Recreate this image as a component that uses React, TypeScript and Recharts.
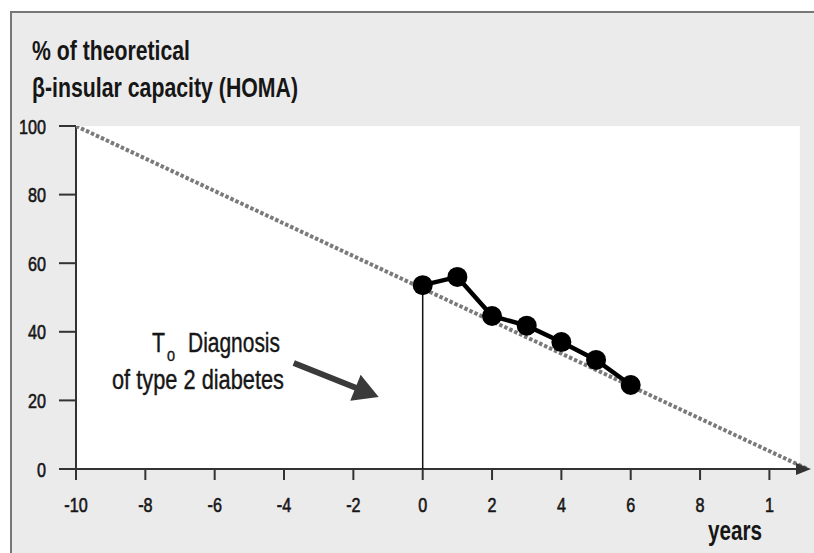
import { ComposedChart, Line, XAxis, YAxis, ReferenceArea, ReferenceLine, ReferenceDot } from 'recharts'

// observed HOMA beta-cell capacity after diagnosis
const years = [0, 1, 2, 3, 4, 5, 6]
const homaValues = [53.6, 56, 44.6, 41.8, 37, 31.8, 24.5]

// theoretical linear decline (dotted)
const declineYears = [-10, 11.1]
const declineValues = [100, 0]

// annotation arrow "T0 Diagnosis" (start, tip)
const arrowYears = [-3.72, -1.27]
const arrowValues = [30.9, 21]

const xTicks = [-10, -8, -6, -4, -2, 0, 2, 4, 6, 8, 10]
const xTickLabels = ['-10', '-8', '-6', '-4', '-2', '0', '2', '4', '6', '8', '1']
const yTicks = [0, 20, 40, 60, 80, 100]

const observed = years.map((x, i) => ({ x, y: homaValues[i] }))
const decline = declineYears.map((x, i) => ({ x, y: declineValues[i] }))
const arrow = arrowYears.map((x, i) => ({ x, y: arrowValues[i] }))

// condensed look: Liberation Sans squeezed horizontally
const FONT = "'Liberation Sans', Arial, sans-serif"
const SQUEEZE = 0.77
const INK = '#161616'
const AXIS = '#333333'

function XTick(props: any) {
  const { x, y, payload } = props
  const label = xTickLabels[xTicks.indexOf(payload.value)] ?? String(payload.value)
  return (
    <g transform={`translate(${x},${y}) scale(${SQUEEZE},1)`}>
      <text x={0} y={0} dy={15} textAnchor="middle" fontFamily={FONT} fontSize={21} fill={INK} stroke={INK} strokeWidth={0.6}>
        {label}
      </text>
    </g>
  )
}

function YTick(props: any) {
  const { x, y, payload } = props
  return (
    <g transform={`translate(${x},${y}) scale(${SQUEEZE},1)`}>
      <text x={0} y={0} dy={7.5} textAnchor="end" fontFamily={FONT} fontSize={21} fill={INK} stroke={INK} strokeWidth={0.6}>
        {String(payload.value)}
      </text>
    </g>
  )
}

function AnnotationArrow(props: any) {
  const { cx, cy, index, points } = props
  if (index !== 1 || !points || !points[0]) return <g key={`a-${index}`} />
  const p0 = points[0]
  const dx = cx - p0.x
  const dy = cy - p0.y
  const len = Math.hypot(dx, dy) || 1
  const ux = dx / len
  const uy = dy / len
  const headLen = 25
  const half = 14
  const bx = cx - ux * headLen
  const by = cy - uy * headLen
  return (
    <g key="arrow">
      <line x1={p0.x} y1={p0.y} x2={bx + ux * 3} y2={by + uy * 3} stroke="#3a3a3a" strokeWidth={6} />
      <polygon
        points={`${cx},${cy} ${bx - uy * half},${by + ux * half} ${bx + uy * half},${by - ux * half}`}
        fill="#3a3a3a"
      />
    </g>
  )
}

function AxisArrowHead(props: any) {
  const { cx, cy } = props
  return <polygon points={`${cx},${cy} ${cx - 15},${cy - 6} ${cx - 15},${cy + 6}`} fill={AXIS} />
}

export default function App() {
  return (
    <div style={{ position: 'absolute', left: 0, top: 0, width: 814, height: 553, background: '#ffffff', overflow: 'hidden' }}>
      <div
        style={{
          position: 'absolute',
          left: 10,
          top: 11,
          width: 820,
          height: 560,
          background: '#ebebeb',
          borderTop: '2px solid #777777',
          borderLeft: '2px solid #777777',
        }}
      />
      <div style={{ position: 'absolute', left: 0, top: 0 }}>
        <ComposedChart width={814} height={553} margin={{ top: 126, right: 3, bottom: 0, left: 0 }}>
          <XAxis
            type="number"
            dataKey="x"
            domain={[-10, 11.2]}
            ticks={xTicks}
            tick={<XTick />}
            tickSize={11}
            tickMargin={17}
            height={84}
            axisLine={false}
            tickLine={{ stroke: AXIS, strokeWidth: 2 }}
            allowDataOverflow
          />
          <YAxis
            type="number"
            dataKey="y"
            domain={[0, 100]}
            ticks={yTicks}
            tick={<YTick />}
            tickSize={17}
            tickMargin={13}
            width={76}
            axisLine={false}
            tickLine={{ stroke: AXIS, strokeWidth: 2 }}
            allowDataOverflow
          />
          <ReferenceArea x1={-10} x2={10.88} y1={0} y2={100} fill="#ffffff" fillOpacity={1} stroke="none" ifOverflow="visible" />
          <ReferenceLine
            segment={[{ x: -10, y: -3 }, { x: -10, y: 100 }]}
            stroke={AXIS}
            strokeWidth={2}
            ifOverflow="visible"
          />
          <Line
            data={decline}
            dataKey="y"
            stroke="#7a7a7a"
            strokeWidth={4}
            strokeDasharray="3.5 2"
            dot={false}
            isAnimationActive={false}
          />
          <ReferenceLine
            segment={[{ x: -10.45, y: 0 }, { x: 10.9, y: 0 }]}
            stroke={AXIS}
            strokeWidth={2}
            ifOverflow="visible"
          />
          <ReferenceDot x={11.2} y={0} r={0} shape={AxisArrowHead} ifOverflow="visible" />
          <ReferenceLine
            segment={[{ x: years[0], y: 0 }, { x: years[0], y: homaValues[0] }]}
            stroke="#111111"
            strokeWidth={1.5}
            ifOverflow="visible"
          />
          <Line
            data={observed}
            dataKey="y"
            stroke="#000000"
            strokeWidth={4.5}
            dot={{ r: 10, fill: '#000000', stroke: '#000000', strokeWidth: 0 }}
            isAnimationActive={false}
          />
          <Line
            data={arrow}
            dataKey="y"
            stroke="none"
            strokeWidth={0}
            dot={AnnotationArrow}
            isAnimationActive={false}
          />
        </ComposedChart>
      </div>

      <svg width={814} height={553} style={{ position: 'absolute', left: 0, top: 0, pointerEvents: 'none' }}>
        <g fontFamily={FONT} fill={INK}>
          <text x={32} y={60} fontSize={28} fontWeight={700} textLength={158} lengthAdjust="spacingAndGlyphs">
            % of theoretical
          </text>
          <text x={32} y={97} fontSize={28} fontWeight={700} textLength={266} lengthAdjust="spacingAndGlyphs">
            β-insular capacity (HOMA)
          </text>

          <g stroke={INK} strokeWidth={0.4}>
            <text x={152} y={352} fontSize={27} textLength={13} lengthAdjust="spacingAndGlyphs">T</text>
            <text x={167} y={361} fontSize={15} textLength={8} lengthAdjust="spacingAndGlyphs">0</text>
            <text x={188} y={352} fontSize={27} textLength={92} lengthAdjust="spacingAndGlyphs">
              Diagnosis
            </text>
            <text x={112} y={389} fontSize={27} textLength={172} lengthAdjust="spacingAndGlyphs">
              of type 2 diabetes
            </text>
          </g>

          <text x={708} y={540} fontSize={28} fontWeight={700} textLength={54} lengthAdjust="spacingAndGlyphs">
            years
          </text>
        </g>
      </svg>
    </div>
  )
}
